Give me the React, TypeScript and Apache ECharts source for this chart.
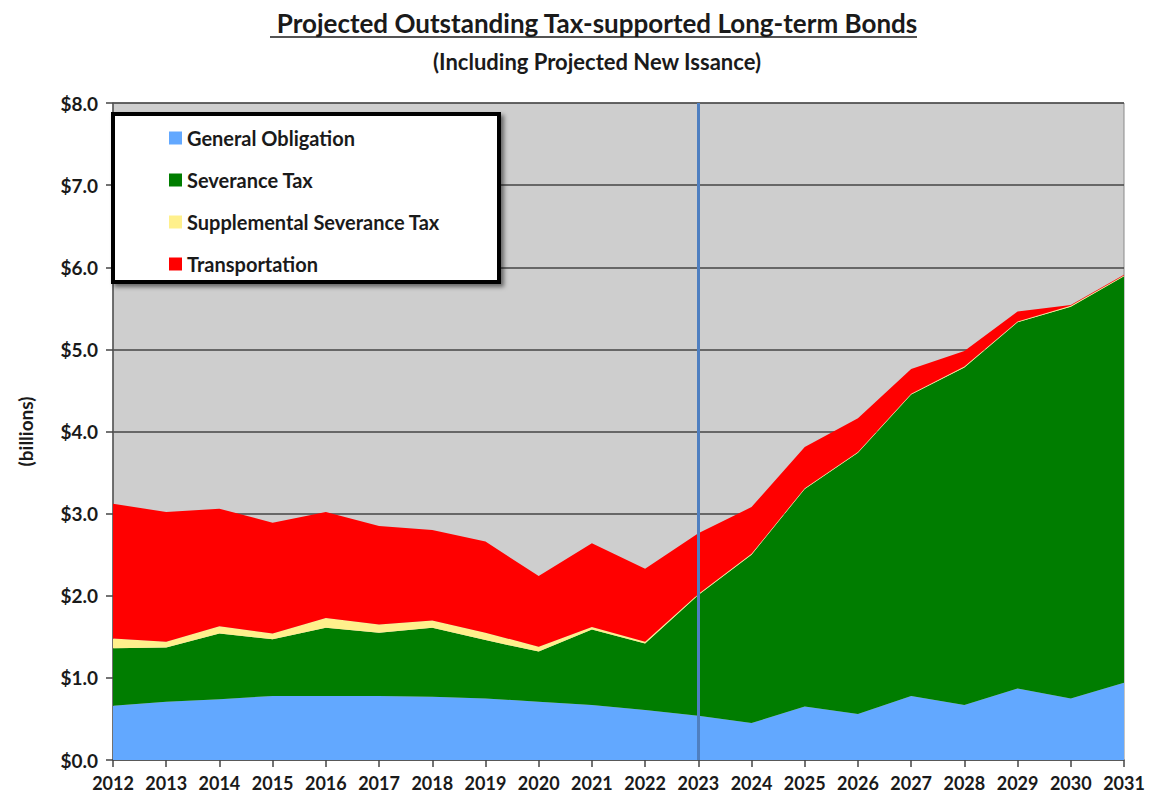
import React, { useEffect, useRef } from "react";
import * as echarts from "echarts";

const years = ["2012","2013","2014","2015","2016","2017","2018","2019","2020","2021","2022","2023","2024","2025","2026","2027","2028","2029","2030","2031"];
const generalObligation = [0.66,0.71,0.74,0.78,0.78,0.78,0.77,0.75,0.71,0.67,0.61,0.54,0.45,0.65,0.56,0.78,0.67,0.87,0.75,0.94];
const severanceTax = [0.70,0.66,0.80,0.69,0.83,0.77,0.84,0.71,0.61,0.92,0.81,1.47,2.05,2.65,3.18,3.67,4.11,4.46,4.77,4.95];
const supplementalSeveranceTax = [0.12,0.07,0.09,0.07,0.12,0.10,0.09,0.09,0.06,0.03,0.02,0.01,0.01,0.01,0.01,0.01,0.01,0.01,0.01,0.01];
const transportation = [1.64,1.58,1.43,1.35,1.29,1.20,1.10,1.11,0.86,1.02,0.89,0.74,0.57,0.50,0.41,0.30,0.19,0.12,0.01,0.01];
const yTicks = [0, 1, 2, 3, 4, 5, 6, 7, 8];
const projectionStart = "2023";

const FONT = "Lato, 'Open Sans', sans-serif";

export default function App() {
  const ref = useRef<HTMLDivElement>(null);
  useEffect(() => {
    const chart = echarts.init(ref.current!, null, { renderer: "svg" });
    const mk = (name: string, data: number[], color: string, extra: any = {}) => ({
      name,
      type: "line",
      stack: "total",
      data,
      symbol: "none",
      lineStyle: { width: 0 },
      areaStyle: { color, opacity: 1 },
      itemStyle: { color },
      z: 2,
      ...extra,
    });
    chart.setOption({
      animation: false,
      backgroundColor: "#ffffff",
      title: [
        {
          text: "Projected Outstanding Tax-supported Long-term Bonds",
          left: 584,
          textAlign: "center",
          top: -3,
          textStyle: { fontFamily: FONT, fontWeight: "bold", fontSize: 26, color: "#1a1a1a" },
        },
        {
          text: "(Including Projected New Issance)",
          left: 584,
          textAlign: "center",
          top: 37,
          textStyle: { fontFamily: FONT, fontWeight: "bold", fontSize: 22, color: "#1a1a1a" },
        },
      ],
      grid: {
        left: 99,
        right: 30,
        top: 95,
        bottom: 42,
        show: true,
        backgroundColor: "#cecece",
        borderColor: "#8a8a8a",
        borderWidth: 1,
      },
      legend: {
        orient: "vertical",
        left: 156,
        top: 114,
        itemWidth: 13,
        itemHeight: 13,
        itemGap: 20,
        icon: "rect",
        textStyle: { fontFamily: FONT, fontWeight: "bold", fontSize: 20, color: "#1a1a1a", lineHeight: 22 },
        data: ["General Obligation", "Severance Tax", "Supplemental Severance Tax", "Transportation"],
        z: 20,
      },
      xAxis: {
        type: "category",
        data: years,
        boundaryGap: false,
        axisLine: { show: true, lineStyle: { color: "#555", width: 1.5 } },
        axisTick: { show: true, alignWithLabel: true, length: 7, lineStyle: { color: "#444", width: 1.5 } },
        axisLabel: { fontFamily: FONT, fontWeight: "bold", fontSize: 18, color: "#1a1a1a", margin: 14, interval: 0 },
        splitLine: { show: false },
      },
      yAxis: {
        type: "value",
        min: yTicks[0],
        max: yTicks[yTicks.length - 1],
        interval: 1,
        name: "(billions)",
        nameLocation: "middle",
        nameGap: 78,
        nameRotate: 90,
        nameTextStyle: { fontFamily: FONT, fontWeight: "bold", fontSize: 19, color: "#1a1a1a" },
        axisLine: { show: true, lineStyle: { color: "#555", width: 1.5 } },
        axisTick: { show: true, length: 7, inside: false, lineStyle: { color: "#444", width: 1.5 } },
        axisLabel: {
          fontFamily: FONT,
          fontWeight: "bold",
          fontSize: 19,
          color: "#1a1a1a",
          margin: 15,
          formatter: (v: number) => "$" + v.toFixed(1),
        },
        splitLine: { show: true, lineStyle: { color: "#444", width: 1.5 } },
      },
      series: [
        mk("General Obligation", generalObligation, "#62a8ff"),
        mk("Severance Tax", severanceTax, "#007d00"),
        mk("Supplemental Severance Tax", supplementalSeveranceTax, "#fff08c"),
        mk("Transportation", transportation, "#ff0000", {
          markLine: {
            silent: true,
            symbol: "none",
            label: { show: false },
            lineStyle: { color: "#4f7fc0", width: 3, type: "solid" },
            data: [{ xAxis: projectionStart }],
            z: 10,
          },
        }),
      ],
      graphic: [
        {
          type: "line",
          shape: { x1: 262, y1: 29, x2: 909, y2: 29 },
          style: { stroke: "#1a1a1a", lineWidth: 1.5 },
          z: 20,
        },
        {
          type: "rect",
          shape: { x: 105, y: 106, width: 386, height: 168 },
          style: {
            fill: "#ffffff",
            stroke: "#000000",
            lineWidth: 4,
            shadowBlur: 4,
            shadowOffsetX: 3,
            shadowOffsetY: 3,
            shadowColor: "rgba(0,0,0,0.5)",
          },
          z: 15,
        },
      ],
    });
    return () => chart.dispose();
  }, []);
  return <div ref={ref} style={{ width: 1146, height: 794 }} />;
}
